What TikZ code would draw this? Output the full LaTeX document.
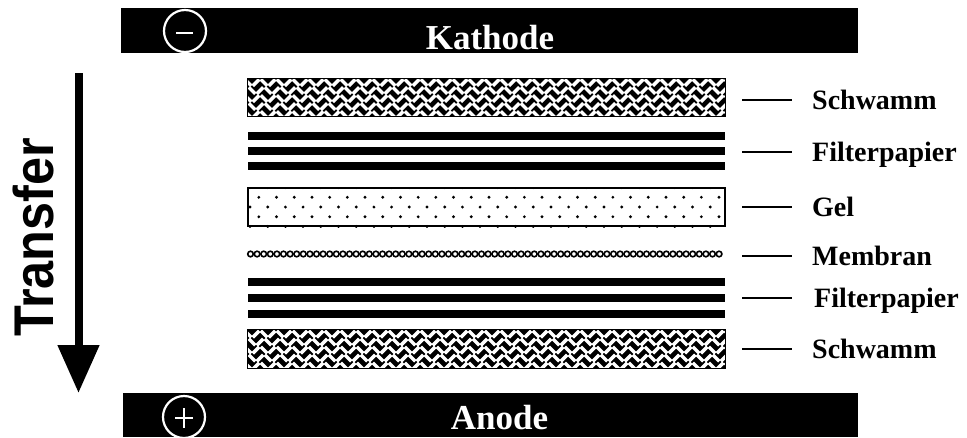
\documentclass[tikz,border=0pt]{standalone}
\usepackage{fontspec}
\setmainfont{Liberation Serif}
\newfontfamily\transferfont{Liberation Sans}
\usetikzlibrary{arrows.meta}
\newcommand\spongefill[1]{%
  \begin{scope}
    \clip (#1.north west) rectangle (#1.south east);
    \foreach \col in {0,...,60} {
      \foreach \row in {0,...,5} {
        \pgfmathsetmacro\xoff{8*\col + 4*mod(\row,2) - 4}
        \pgfmathtruncatemacro\parity{mod(\col,2)}
        \ifnum\parity=0
          \draw[white, line width=3.4pt] ([shift={(\xoff pt+1pt,-8*\row pt-1pt)}]#1.north west) -- ++(6.5pt,-6.5pt);
        \else
          \draw[white, line width=3.4pt] ([shift={(\xoff pt+1pt,-8*\row pt-7.5pt)}]#1.north west) -- ++(6.5pt,6.5pt);
        \fi
      }
    }
  \end{scope}
  \draw[line width=1.2pt] (#1.north west) rectangle (#1.south east);
}
\begin{document}
\begin{tikzpicture}[x=1pt,y=-1pt,
  bar/.style={fill=black, inner sep=0pt},
  layer/.style={inner sep=0pt, minimum width=477pt},
  schw/.style={layer, fill=black, minimum height=38pt},
  fp/.style={layer, fill=black, minimum height=8pt},
  gelbox/.style={layer, draw, line width=2pt, fill=white, minimum height=38pt},
  lab/.style={anchor=west, inner sep=0pt, font=\fontsize{28}{32}\selectfont\bfseries, text height=18.5pt, text depth=0pt},
  conn/.style={line width=1.2pt},
  pole/.style={circle, draw=white, line width=2.2pt, minimum size=42pt, inner sep=0pt},
  poletitle/.style={text=white, inner sep=0pt, font=\fontsize{35}{40}\selectfont\bfseries, text height=23pt, text depth=0pt}
]
\useasboundingbox (0,0) rectangle (967,437);

% electrodes
\node[bar, minimum width=737pt, minimum height=45pt] (kbar) at (489.5,30.5) {};
\node[bar, minimum width=735pt, minimum height=44pt] (abar) at (490.5,415) {};
\node[pole] (minus) at (185,31) {};
\draw[white, line width=2pt] ([shift={(-9pt,-2pt)}]minus.center) -- ([shift={(8pt,-2pt)}]minus.center);
\node[pole] (plus) at (184,417) {};
\draw[white, line width=2pt] ([shift={(-9pt,-1pt)}]plus.center) -- ([shift={(9pt,-1pt)}]plus.center);
\draw[white, line width=2pt] ([shift={(0pt,9pt)}]plus.center) -- ([shift={(0pt,-11pt)}]plus.center);
\node[poletitle] (ktext) at (490,37.5) {Kathode};
\node[poletitle] (atext) at (499.5,417.5) {Anode};

% transfer arrow
\node[rotate=90, inner sep=0pt, font=\transferfont\bfseries\fontsize{56}{60}\selectfont, text height=40pt, text depth=0pt] (tr) at (33,237.5) {\scalebox{0.9}[1]{Transfer}};
\coordinate (atop) at (78.5,73);
\coordinate (abot) at (78.5,393);
\draw[line width=8pt, -{Triangle[width=40pt,length=48pt]}] (atop) -- (abot);

% layers
\node[schw] (s1) at (486.5,97.5) {};
\spongefill{s1}
\node[fp] (f1a) at (486.5,135.5) {};
\node[fp] (f1b) at (486.5,150.5) {};
\node[fp] (f1c) at (486.5,166) {};
\node[gelbox] (gel) at (486.5,207) {};
\begin{scope}
  \clip (gel.north west) rectangle (gel.south east);
  \foreach \row in {0,...,4} {
    \foreach \col in {0,...,28} {
      \fill ({250+8.85*mod(\row,2)+17.7*\col},{187.5+9.75*\row}) circle (1.6pt);
    }
  }
\end{scope}
\node[layer, minimum height=6pt] (mem) at (486.5,254) {};
\foreach \i in {0,...,71} {
  \draw[line width=1.6pt] ({250.5+6.6*\i},254) ellipse [x radius=2.8pt, y radius=2.8pt];
}
\node[fp] (f2a) at (486.5,281.5) {};
\node[fp] (f2b) at (486.5,297.5) {};
\node[fp] (f2c) at (486.5,313.5) {};
\node[schw] (s2) at (486.5,349) {};
\spongefill{s2}

% labels
\node[lab] (l1) at (812,100) {Schwamm};
\node[lab] (l2) at (812,152) {Filterpapier};
\node[lab] (l3) at (812,207) {Gel};
\node[lab] (l4) at (812,256) {Membran};
\node[lab] (l5) at (814,298) {Filterpapier};
\node[lab] (l6) at (812,349) {Schwamm};
\coordinate (c1) at (742,100);
\coordinate (c2) at (742,152);
\coordinate (c3) at (742,207);
\coordinate (c4) at (742,256);
\coordinate (c5) at (742,298);
\coordinate (c6) at (742,349);
\draw[conn] (c1) -- ([xshift=-20pt]l1.west);
\draw[conn] (c2) -- ([xshift=-20pt]l2.west);
\draw[conn] (c3) -- ([xshift=-20pt]l3.west);
\draw[conn] (c4) -- ([xshift=-20pt]l4.west);
\draw[conn] (c5) -- ([xshift=-22pt]l5.west);
\draw[conn] (c6) -- ([xshift=-20pt]l6.west);
\end{tikzpicture}
\end{document}
